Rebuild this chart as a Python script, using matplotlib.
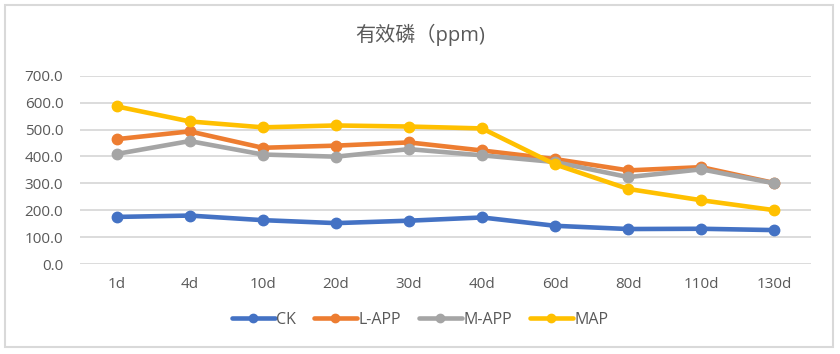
import matplotlib
matplotlib.use("Agg")
import matplotlib.pyplot as plt
from matplotlib.patches import Rectangle

plt.rcParams['font.family'] = ['Open Sans', 'Noto Sans CJK SC', 'DejaVu Sans']

days = ['1d', '4d', '10d', '20d', '30d', '40d', '60d', '80d', '110d', '130d']
ck = [175, 180, 163, 152, 161, 173, 142, 130, 131, 126]
l_app = [464, 493, 432, 440, 452, 422, 390, 348, 360, 301]
m_app = [409, 457, 407, 399, 427, 404, 379, 323, 352, 300]
map_ = [586, 530, 508, 515, 511, 504, 370, 279, 237, 200]

series = [('CK', ck, '#4472C4'), ('L-APP', l_app, '#ED7D31'),
          ('M-APP', m_app, '#A5A5A5'), ('MAP', map_, '#FFC000')]

txt = '#595959'
fig = plt.figure(figsize=(8.4, 3.54), dpi=100)
fig.patches.append(Rectangle((5 / 840, 7 / 354), 828 / 840, 342 / 354, transform=fig.transFigure,
                             fill=False, edgecolor='#D9D9D9', linewidth=1.5))

ax = fig.add_axes([80 / 840, 1 - 264 / 354, 731 / 840, 188.3 / 354])
x = range(len(days))
for name, vals, col in series:
    ax.plot(x, vals, color=col, linewidth=3.3, marker='o', markersize=7.5, label=name,
            solid_capstyle='round')

ax.set_xlim(-0.5, len(days) - 0.5)
ax.set_ylim(0, 700)
ax.set_yticks(range(0, 701, 100))
ax.set_yticklabels([f'{v:.1f}' for v in range(0, 701, 100)])
ax.set_xticks(list(x))
ax.set_xticklabels(days)
ax.grid(axis='y', color='#D9D9D9', linewidth=1.3)
ax.set_axisbelow(True)
for s in ax.spines.values():
    s.set_visible(False)
ax.tick_params(axis='both', length=0, labelsize=11, labelcolor=txt)
ax.tick_params(axis='y', pad=12)
ax.tick_params(axis='x', pad=9)

fig.text(0.5, 1 - 35 / 354, '有效磷（ppm)', ha='center', va='center', fontsize=14.5, color=txt)

fig.legend(loc='center', bbox_to_anchor=(0.5, 1 - 320 / 354), ncol=4, frameon=False,
           fontsize=11.5, labelcolor=txt, handlelength=2.7, handletextpad=0.1,
           columnspacing=1.1, markerscale=0.8)

fig.savefig('out.png', dpi=100)
